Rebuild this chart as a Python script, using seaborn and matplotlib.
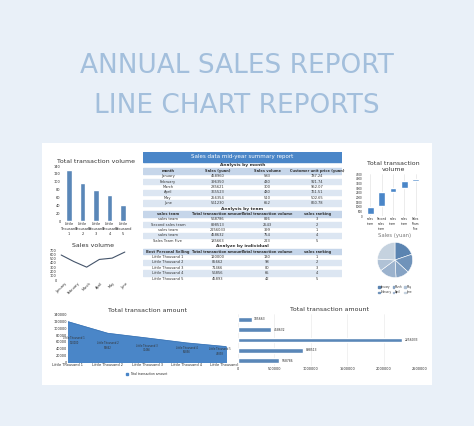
import matplotlib
matplotlib.use("Agg")
import matplotlib.pyplot as plt
import seaborn as sns
import numpy as np
import pandas as pd

sns.set_theme(style="white")
plt.rcParams["font.family"] = ["DejaVu Sans"]

# data
people = ["Little Thousand 1", "Little Thousand 2", "Little Thousand 3",
          "Little Thousand 4", "Little Thousand 5"]
people_volume = [130, 98, 80, 65, 42]
people_amount = [120000, 85662, 71466, 56856, 45893]
months = ["January", "February", "March", "April", "May", "June"]
month_sales = [458960, 396350, 285621, 365523, 256354, 561230]
month_volume = [583, 430, 300, 480, 510, 652]
month_price = ["787.24", "921.74", "952.07", "761.51", "502.65", "860.78"]
teams = ["sales team", "Second sales team", "sales team", "sales team", "Sales Team Five"]
team_amount = [568786, 898513, 2256033, 458632, 185663]
team_volume = [826, 2543, 399, 754, 223]
team_rank = [3, 2, 1, 4, 5]
wf_labels = ["sales\nteam", "Second\nsales\nteam", "sales\nteam", "sales\nteam", "Sales\nTeam\nFive"]
wf_low = [200, 1100, 2600, 3000, 3800]
wf_high = [1000, 2600, 3000, 3800, 4000]

W, H = 474, 426
fig = plt.figure(figsize=(W / 100, H / 100), dpi=100)
fig.patch.set_facecolor("#e9f0f8")

def box(x, y, w, h):
    return fig.add_axes([x / W, 1 - (y + h) / H, w / W, h / H])

fig.text(0.5, 1 - 66 / H, "ANNUAL SALES REPORT", ha="center", va="center",
         fontsize=19, color="#a3bfdc")
fig.text(0.5, 1 - 106 / H, "LINE CHART REPORTS", ha="center", va="center",
         fontsize=19, color="#a3bfdc")

panel = box(42, 143, 390, 242)
panel.set_facecolor("white")
panel.set_xticks([]); panel.set_yticks([])
for s in panel.spines.values():
    s.set_visible(False)

blue = "#4a86c8"
tick_fs = 2.5

def style(ax, title, tfs=4.5):
    ax.set_title(title, fontsize=tfs, pad=2, color="#333333")
    ax.tick_params(labelsize=tick_fs, length=0, pad=1)
    for s in ax.spines.values():
        s.set_visible(False)
    ax.set_facecolor("white")

# bar chart
ax = box(62, 166, 68, 55)
sns.barplot(x=[f"Little\nThousand\n{i+1}" for i in range(5)], y=people_volume,
            color=blue, width=0.4, ax=ax)
ax.set_ylim(0, 140)
ax.set_yticks(range(0, 141, 20))
style(ax, "Total transaction volume")

# line chart
ax = box(58, 250, 70, 30)
sns.lineplot(x=months, y=month_volume, color="#44546a", lw=0.8, ax=ax, sort=False)
ax.set_ylim(0, 700)
ax.set_yticks(range(0, 701, 100))
ax.tick_params(axis="x", rotation=45)
style(ax, "Sales volume")

# table
ax = box(143, 152, 199, 140)
ax.set_xlim(0, 4); ax.set_ylim(0, 26); ax.invert_yaxis(); ax.axis("off")
hdr_c, stripe = "#4a86c8", "#dce6f2"
ax.add_patch(plt.Rectangle((0, 0), 4, 1.8, color=hdr_c))
ax.text(2, 0.9, "Sales data mid-year summary report", ha="center", va="center",
        fontsize=4, color="white")
rows = [("sec", "Analysis by month"),
        ("hdr", ["month", "Sales (yuan)", "Sales volume", "Customer unit price (yuan)"])]
rows += [("row", [m, str(s), str(v), p]) for m, s, v, p in zip(months, month_sales, month_volume, month_price)]
rows += [("sec", "Analysis by team"),
         ("hdr", ["sales team", "Total transaction amount", "Total transaction volume", "sales ranking"])]
rows += [("row", [t, str(a), str(v), str(r)]) for t, a, v, r in zip(teams, team_amount, team_volume, team_rank)]
rows += [("sec", "Analyze by individual"),
         ("hdr", ["Best Personal Selling", "Total transaction amount", "Total transaction volume", "sales ranking"])]
rows += [("row", [p, str(a), str(v), str(i + 1)]) for i, (p, a, v) in enumerate(zip(people, people_amount, people_volume))]
y = 2.0
k = 0
for kind, val in rows:
    if kind == "sec":
        ax.text(2, y + 0.5, val, ha="center", va="center", fontsize=3.2, weight="bold", color="#333333")
        k = 0
    else:
        if kind == "hdr" or k % 2 == 0:
            ax.add_patch(plt.Rectangle((0, y), 4, 1, color="#c6d6ea" if kind == "hdr" else stripe))
        for j, c in enumerate(val):
            ax.text(j + 0.5, y + 0.5, c, ha="center", va="center", fontsize=2.6,
                    weight="bold" if kind == "hdr" else "normal", color="#333333")
        k += 1
    y += 1

# waterfall
ax = box(364, 174, 58, 42)
ax.bar(range(5), np.array(wf_high) - np.array(wf_low), bottom=wf_low, color=blue, width=0.6)
ax.set_xticks(range(5)); ax.set_xticklabels(wf_labels)
ax.set_ylim(0, 4500); ax.set_yticks(range(0, 4501, 500))
ax.grid(axis="x", color="#dddddd", lw=0.4)
style(ax, "Total transaction\nvolume")
ax.tick_params(labelsize=2)

# pie
ax = box(373, 238, 44, 44)
shades = sns.light_palette("#5b84b1", 8)[2:][::-1]
ax.pie(month_sales, colors=shades, startangle=90, counterclock=False,
       wedgeprops=dict(edgecolor="white", lw=0.4))
ax.set_title("Sales (yuan)", fontsize=3.8, color="#777777", pad=1)
handles = [plt.Rectangle((0, 0), 1, 1, color=c) for c in shades]
ax.legend(handles, months, ncol=3, fontsize=1.8, loc="upper center",
          bbox_to_anchor=(0.5, -0.02), frameon=False, handlelength=0.6,
          columnspacing=0.6, handletextpad=0.3)

# area chart
ax = box(68, 315, 158, 47)
xs = np.arange(5)
ax.fill_between(xs, people_amount, color=blue)
ax.plot(xs, people_amount, color="#3f78b8", lw=0.6)
for i, (p, a) in enumerate(zip(people, people_amount)):
    ax.text(i + (0.15 if i == 0 else (-0.15 if i == 4 else 0)), a * 0.45, f"{p}\n{a}",
            fontsize=1.8, ha="center", color="#333333")
ax.set_xticks(xs); ax.set_xticklabels(people)
ax.set_xlim(0, 4); ax.set_ylim(0, 140000)
ax.set_yticks(range(0, 140001, 20000))
style(ax, "Total transaction amount")
ax.legend([plt.Rectangle((0, 0), 1, 1, color=blue)], ["Total transaction amount"],
          fontsize=2.2, loc="upper center", bbox_to_anchor=(0.5, -0.15), frameon=False,
          handlelength=0.6)

# horizontal bar
ax = box(238, 314, 182, 52)
df = pd.DataFrame({"team": [f"t{i}" for i in range(5)], "amt": team_amount[::-1]})
sns.barplot(data=df, y="team", x="amt", color=blue, width=0.45, ax=ax, orient="h")
for i, v in enumerate(df["amt"]):
    ax.text(v + 30000, i, str(v), va="center", fontsize=2.2)
ax.set_yticks([]); ax.set_ylabel(""); ax.set_xlabel("")
ax.set_xlim(0, 2500000)
xt = list(range(0, 2500001, 500000))
ax.set_xticks(xt); ax.set_xticklabels([str(t) for t in xt])
ax.grid(axis="x", color="#e6e6e6", lw=0.4)
style(ax, "Total transaction amount")

fig.savefig("out.png", dpi=100)
